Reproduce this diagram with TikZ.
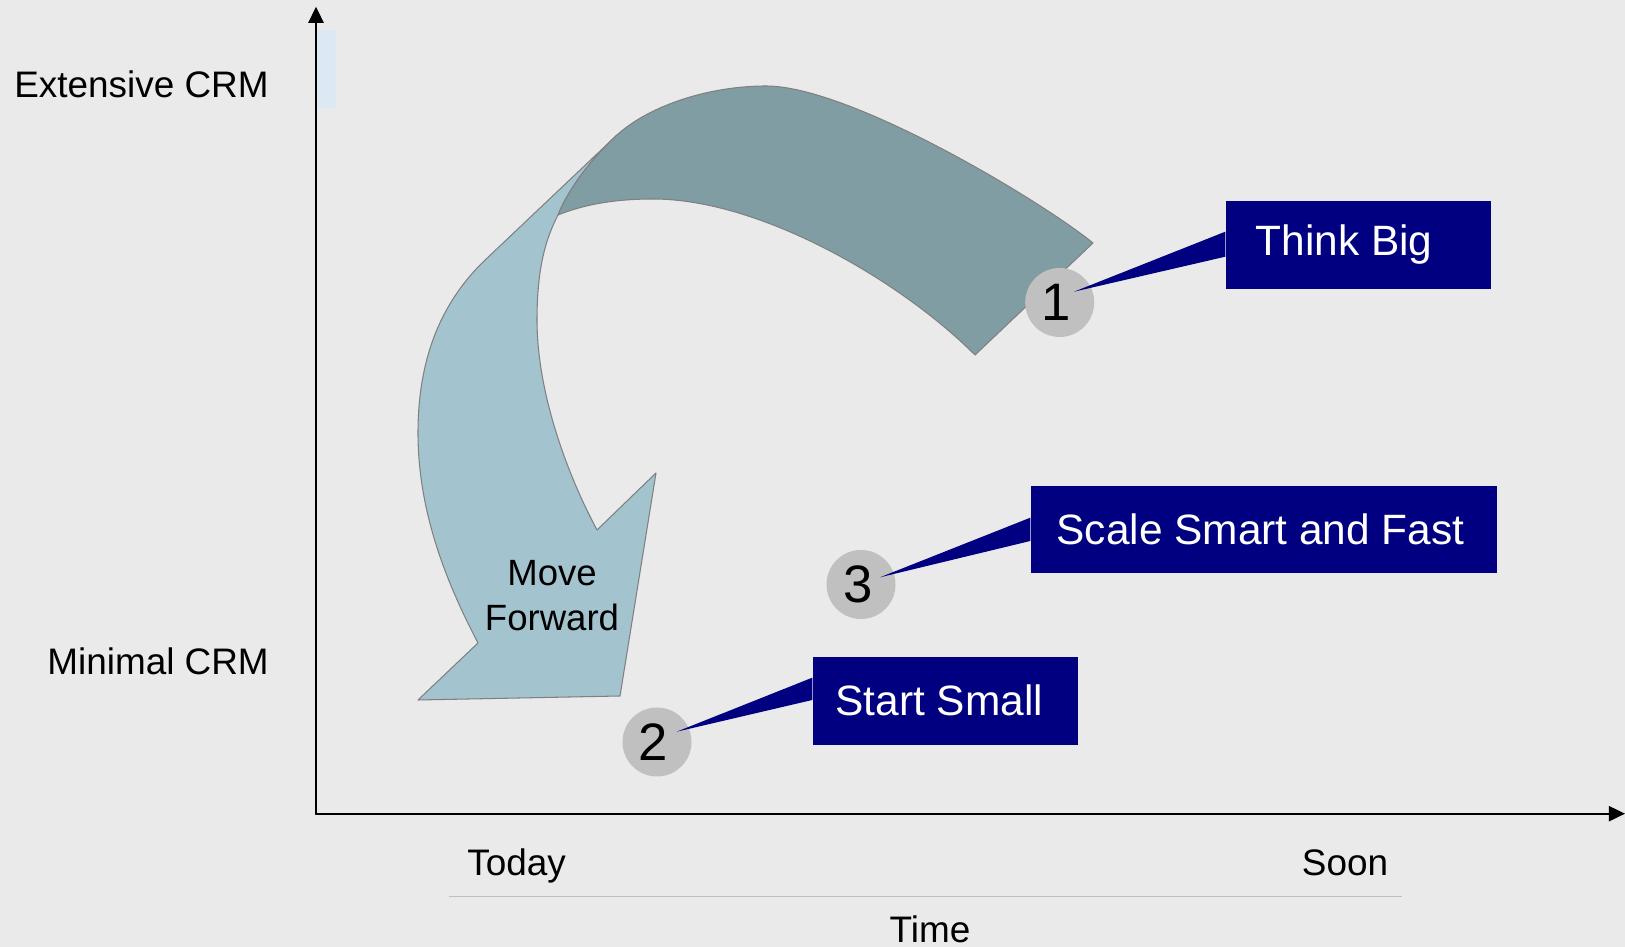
\documentclass[tikz,border=0pt]{standalone}
\usepackage{fontspec}
\setmainfont{Liberation Sans}
\usepackage{tikz}
\usetikzlibrary{calc}
\usetikzlibrary{arrows.meta}
\definecolor{slidebg}{RGB}{234,234,234}
\definecolor{bandDark}{RGB}{128,157,163}
\definecolor{bandLight}{RGB}{163,196,206}
\definecolor{bandEdge}{RGB}{128,128,128}
\definecolor{calloutBlue}{RGB}{0,0,128}
\definecolor{badgeGray}{RGB}{192,192,192}
\definecolor{paleBlue}{RGB}{220,232,243}
\definecolor{ruleGray}{RGB}{192,192,192}

\begin{document}
\begin{tikzpicture}[line cap=round, line join=round, >={Triangle[length=4.6pt,width=4.3pt]},
  axislabel/.style={font=\fontsize{10.5}{12.6}\selectfont, inner sep=0pt},
  callout/.style={fill=calloutBlue, text=white, inner sep=0pt, minimum height=0.875cm,
                  font=\fontsize{12.07}{14.5}\selectfont},
  badge/.style={circle, fill=badgeGray, inner sep=0pt, minimum size=0.69cm,
                font=\fontsize{15}{18}\selectfont},
  band/.style={draw=bandEdge, line width=0.3pt}]
  %--- Background
    \fill[slidebg] (0, 0) rectangle (16.25, 9.47);
    \useasboundingbox (0, 0) rectangle (16.25, 9.47);
    \fill[paleBlue] (3.167, 8.393) rectangle (3.36, 9.17);
  %--- Axes
    \coordinate (origin) at (3.16, 1.333);
    \coordinate (ytop) at (3.16, 9.403);
    \coordinate (xend) at (16.25, 1.333);
    \draw[->, line width=0.6pt] (origin) -- (ytop);
    \draw[->, line width=0.6pt] (origin) -- (xend);
    \node[axislabel, anchor=base east] (extensive) at (2.693, 8.493) {Extensive CRM};
    \node[axislabel, anchor=base east] (minimal) at (2.695, 2.723) {Minimal CRM};
  %--- Time scale
    \node[axislabel, anchor=base] (today) at (5.165, 0.71) {Today};
    \node[axislabel, anchor=base] (soon) at (13.45, 0.71) {Soon};
    \node[axislabel, anchor=base] (time) at (9.30, 0.045) {Time};
    \draw[ruleGray, line width=0.4pt, line cap=butt] (4.49, 0.503) -- (14.017, 0.503);
  %--- Move forward arrow
    \filldraw[band, fill=bandLight] (6.17, 8.12) -- (4.82, 6.84)
      .. controls (4.40, 6.42) and (4.18, 5.87) .. (4.18, 5.14)
      .. controls (4.18, 4.37) and (4.45, 3.67) .. (4.78, 3.04)
      -- (4.18, 2.47) -- (6.20, 2.51) -- (6.56, 4.74) -- (5.97, 4.17)
      .. controls (5.65, 4.77) and (5.37, 5.57) .. (5.37, 6.27)
      .. controls (5.37, 6.77) and (5.45, 7.07) .. (5.58, 7.32)
      .. controls (5.68, 7.57) and (5.90, 7.87) .. (6.17, 8.12) -- cycle;
    \node[axislabel, align=center, font=\fontsize{10.4}{12.8}\selectfont] (move) at (5.52, 3.51) {Move\\Forward};
  %--- Think big band
    \filldraw[band, fill=bandDark] (6.17, 8.12)
      .. controls (6.50, 8.42) and (7.10, 8.61) .. (7.66, 8.61)
      .. controls (8.50, 8.61) and (10.40, 7.47) .. (10.93, 7.04)
      -- (9.75, 5.92)
      .. controls (9.00, 6.67) and (7.60, 7.48) .. (6.53, 7.48)
      .. controls (6.13, 7.48) and (5.83, 7.42) .. (5.58, 7.32)
      .. controls (5.68, 7.57) and (5.90, 7.87) .. (6.17, 8.12) -- cycle;
  %--- Badges
    \node[badge] (one) at (10.597, 6.445) {1\hspace*{0.07cm}};
    \node[badge] (two) at (6.57, 2.05) {2\hspace*{0.07cm}};
    \node[badge] (three) at (8.61, 3.625) {3\hspace*{0.05cm}};
  %--- Callouts
    \node[callout, minimum width=2.65cm] (think) at (13.585, 7.02) {Think Big\hspace*{0.29cm}};
    \node[callout, minimum width=4.66cm] (scale) at (12.64, 4.175) {Scale Smart and Fast\hspace*{0.07cm}};
    \node[callout, minimum width=2.647cm] (start) at (9.453, 2.462) {Start Small\hspace*{0.12cm}};
    \fill[calloutBlue] ($(think.west)+(0, 0.133)$) -- ($(think.west)+(0, -0.117)$) -- ($(one)+(0.143, 0.108)$) -- cycle;
    \fill[calloutBlue] ($(scale.west)+(0, 0.118)$) -- ($(scale.west)+(0, -0.115)$) -- ($(three)+(0.19, 0.072)$) -- cycle;
    \fill[calloutBlue] ($(start.west)+(0, 0.231)$) -- ($(start.west)+(0, 0.008)$) -- ($(two)+(0.197, 0.103)$) -- cycle;
\end{tikzpicture}
\end{document}
